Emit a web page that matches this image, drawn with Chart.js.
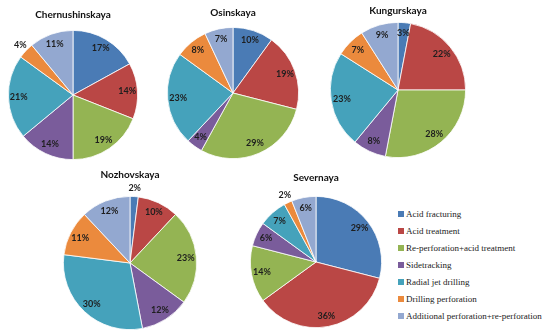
<!DOCTYPE html>
<html lang="en">
  <head>
    <meta charset="UTF-8" />
    <title>Well treatment methods by field</title>
    <script src="https://cdn.jsdelivr.net/npm/chart.js"></script>
    <style>
      body {
        margin: 0;
        background: #fff;
        width: 550px;
        height: 336px;
        overflow: hidden;
        position: relative;
      }
      .pie {
        position: absolute;
      }
      .title {
        position: absolute;
        width: 160px;
        margin-left: -80px;
        text-align: center;
        font: bold 10px Lato, sans-serif;
        color: #111;
        line-height: 12px;
      }
      .legend {
        position: absolute;
        left: 398px;
        top: 208px;
        font: 9px "Liberation Serif", serif;
        color: #222;
      }
      .legend div {
        height: 17px;
        line-height: 12px;
        white-space: nowrap;
      }
      .legend span {
        display: inline-block;
        width: 6px;
        height: 6px;
        margin-right: 2px;
        vertical-align: 0px;
      }
    </style>
  </head>
  <body>
    <div class="legend" id="legend"></div>

    <script>
      // categories and colours
      const categories = [
        "Acid fracturing",
        "Acid treatment",
        "Re-perforation+acid treatment",
        "Sidetracking",
        "Radial jet drilling",
        "Drilling perforation",
        "Additional perforation+re-perforation",
      ];
      const sliceColors = [
        "#4A7BB5",
        "#BA4745",
        "#94B453",
        "#7A5C9B",
        "#45A2BB",
        "#EB8A3D",
        "#93A8D0",
      ];

      // shares, %
      const chernushinskaya = [17, 14, 19, 14, 21, 4, 11];
      const osinskaya = [10, 19, 29, 4, 23, 8, 7];
      const kungurskaya = [3, 22, 28, 8, 23, 7, 9];
      const nozhovskaya = [2, 10, 23, 12, 30, 11, 12];
      const severnaya = [29, 36, 14, 6, 7, 2, 6];

      // where each pie sits on the page
      const pies = [
        { name: "Chernushinskaya", data: chernushinskaya, cx: 73, cy: 95, r: 65, ty: 8, outside: [5] },
        { name: "Osinskaya", data: osinskaya, cx: 233, cy: 93, r: 66, ty: 6, outside: [] },
        { name: "Kungurskaya", data: kungurskaya, cx: 398, cy: 90, r: 68, ty: 4, outside: [] },
        { name: "Nozhovskaya", data: nozhovskaya, cx: 130, cy: 263, r: 67, ty: 168, outside: [0] },
        { name: "Severnaya", data: severnaya, cx: 316, cy: 262, r: 66, ty: 171, outside: [5] },
      ];

      // percent labels on the slices
      const pctLabels = {
        id: "pctLabels",
        afterDatasetsDraw(chart, args, opts) {
          const ctx = chart.ctx;
          const meta = chart.getDatasetMeta(0);
          const data = chart.data.datasets[0].data;
          ctx.save();
          ctx.font = "bold 9px Lato, sans-serif";
          ctx.fillStyle = "#1e1e1e";
          ctx.textAlign = "center";
          ctx.textBaseline = "middle";
          meta.data.forEach((arc, i) => {
            const p = arc.getProps(["x", "y", "startAngle", "endAngle", "outerRadius"], true);
            const a = (p.startAngle + p.endAngle) / 2;
            const k = opts.outside.includes(i) ? 1.12 : 0.84;
            ctx.fillText(
              data[i] + "%",
              p.x + Math.cos(a) * p.outerRadius * k,
              p.y + Math.sin(a) * p.outerRadius * k
            );
          });
          ctx.restore();
        },
      };

      const pad = 16;
      pies.forEach((pie) => {
        const size = pie.r * 2 + pad * 2;
        const cv = document.createElement("canvas");
        cv.className = "pie";
        cv.width = size;
        cv.height = size;
        cv.style.width = size + "px";
        cv.style.height = size + "px";
        cv.style.left = pie.cx - pie.r - pad + "px";
        cv.style.top = pie.cy - pie.r - pad + "px";
        document.body.appendChild(cv);

        const t = document.createElement("div");
        t.className = "title";
        t.style.left = pie.cx + "px";
        t.style.top = pie.ty + "px";
        t.textContent = pie.name;
        document.body.appendChild(t);

        new Chart(cv.getContext("2d"), {
          type: "pie",
          data: {
            labels: categories,
            datasets: [
              {
                data: pie.data,
                backgroundColor: sliceColors,
                borderColor: "#ffffff",
                borderWidth: 0.8,
              },
            ],
          },
          options: {
            responsive: false,
            animation: false,
            layout: { padding: pad },
            plugins: {
              legend: { display: false },
              tooltip: { enabled: false },
              pctLabels: { outside: pie.outside },
            },
          },
          plugins: [pctLabels],
        });
      });

      // legend
      const legend = document.getElementById("legend");
      categories.forEach((c, i) => {
        const row = document.createElement("div");
        row.innerHTML = '<span style="background:' + sliceColors[i] + '"></span>' + c;
        legend.appendChild(row);
      });
    </script>
  </body>
</html>
